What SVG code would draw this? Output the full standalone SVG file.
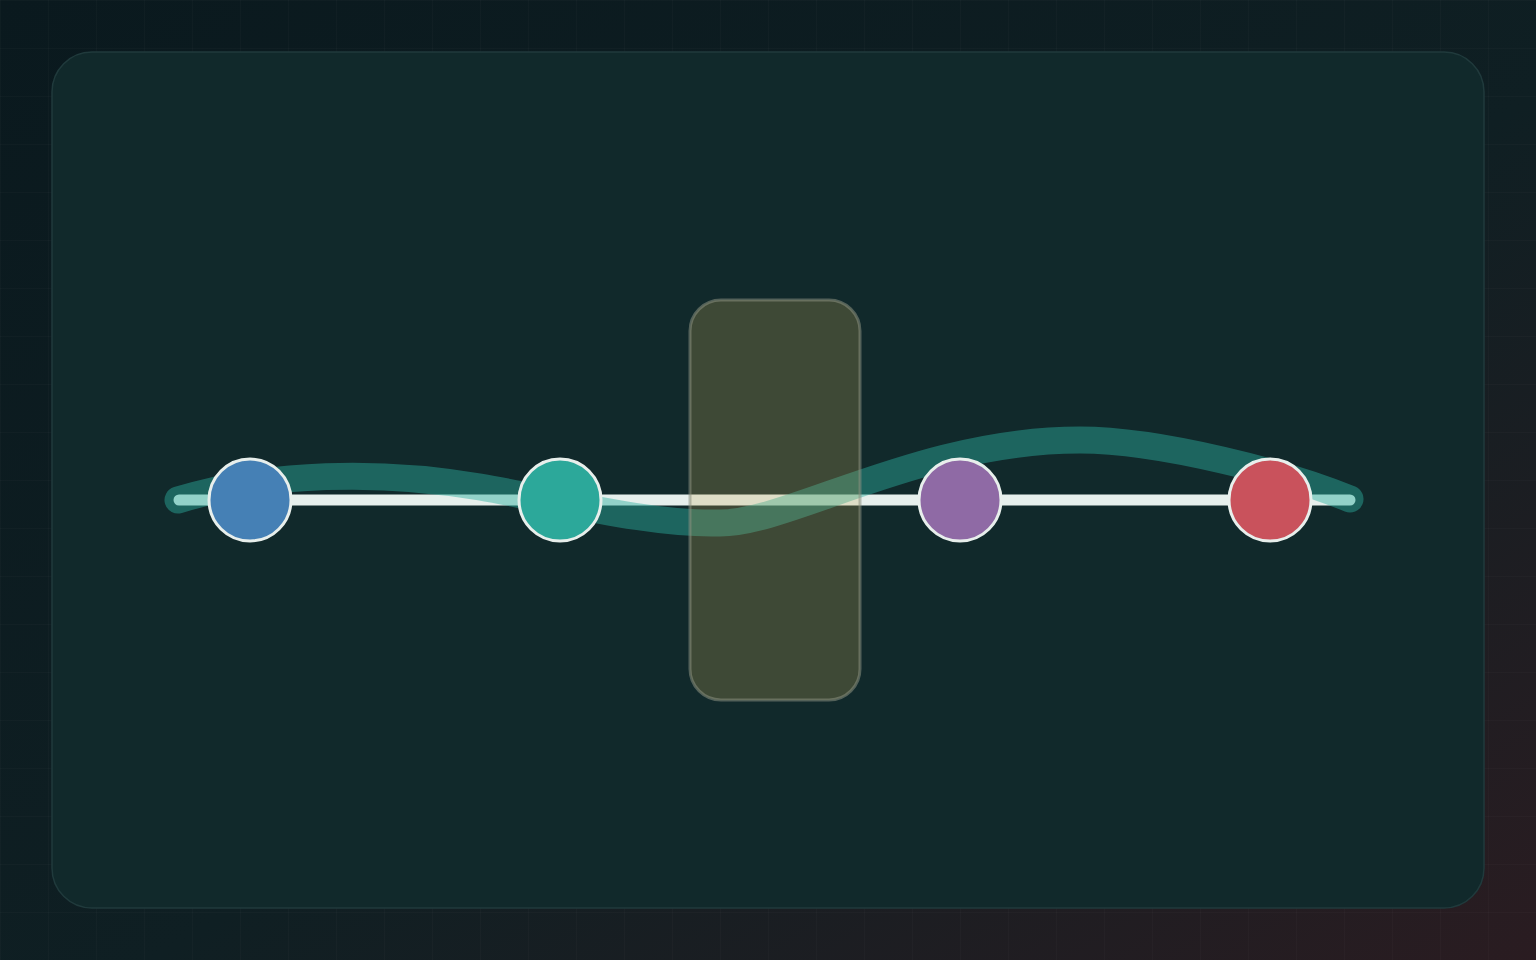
<svg xmlns="http://www.w3.org/2000/svg" width="1536" height="960" viewBox="0 0 1536 960">
  <defs>
    <linearGradient id="bg" x1="0" y1="0" x2="1" y2="1">
      <stop offset="0" stop-color="#0a191e"/>
      <stop offset="0.55" stop-color="#0f1f23"/>
      <stop offset="1" stop-color="#2a1c21"/>
    </linearGradient>
    <pattern id="grid" width="48" height="48" patternUnits="userSpaceOnUse">
      <path d="M48 0 H0 V48" fill="none" stroke="#ffffff" stroke-opacity="0.035" stroke-width="1"/>
    </pattern>
    <style>
      .node { stroke: #e8efec; stroke-width: 3; }
      .rail { fill: none; stroke: #e6efec; stroke-width: 11; stroke-linecap: round; }
      .wave { fill: none; stroke: #2dafa0; stroke-opacity: 0.45; stroke-width: 27; stroke-linecap: round; }
    </style>
  </defs>
  <rect width="1536" height="960" fill="url(#bg)"/>
  <rect width="1536" height="960" fill="url(#grid)"/>
  <rect id="panel" x="52" y="52" width="1432" height="856" rx="40" fill="#11292b" stroke="#203a3c" stroke-width="1.5"/>

  <g id="connectors">
    <line class="rail" x1="179" y1="500" x2="1350" y2="500"/>
    <path class="wave" d="M178,500 C270,472 380,470 480,487 C560,501 650,525 720,523 C790,523 920,440 1080,440 C1160,440 1290,474 1350,499"/>
  </g>

  <g id="window">
    <rect x="690" y="300" width="170" height="400" rx="31" fill="#c9ad57" fill-opacity="0.25" stroke="#8a9080" stroke-opacity="0.55" stroke-width="3"/>
  </g>

  <g id="node-blue"><circle class="node" cx="250" cy="500" r="41" fill="#4580b5"/></g>
  <g id="node-teal"><circle class="node" cx="560" cy="500" r="41" fill="#2ca89a"/></g>
  <g id="node-purple"><circle class="node" cx="960" cy="500" r="41" fill="#8f6aa5"/></g>
  <g id="node-red"><circle class="node" cx="1270" cy="500" r="41" fill="#c9525c"/></g>
</svg>
